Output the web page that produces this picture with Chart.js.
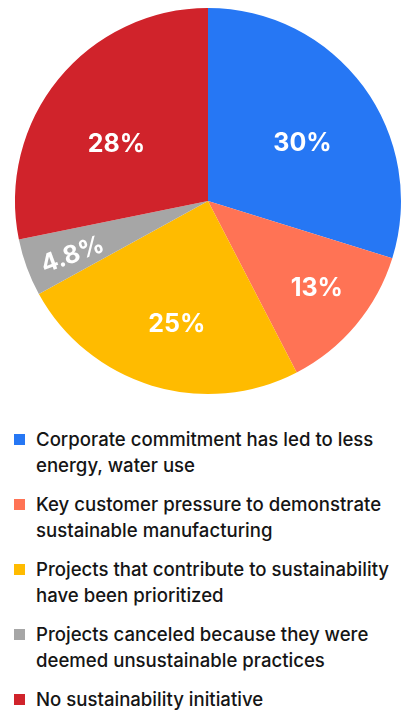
<!DOCTYPE html>
<html>
<head>
<meta charset="utf-8">
<script src="https://cdn.jsdelivr.net/npm/chart.js@4.4.1/dist/chart.umd.min.js"></script>
<style>
  html, body { margin: 0; padding: 0; background: #fff; }
  body { width: 404px; height: 710px; position: relative; overflow: hidden;
         font-family: Inter, "Liberation Sans", Arial, sans-serif; }
  #wrap { position: absolute; left: 0; top: 0; width: 404px; height: 402px; }
  #legend { position: absolute; left: 0; top: 426px; width: 404px; }
  .item { position: relative; padding-left: 36px; font-size: 18.6px; font-weight: 500;
          line-height: 26px; color: #151515; margin-bottom: 13px; white-space: nowrap; }
  .item .box { position: absolute; left: 14px; top: 8px; width: 11px; height: 11px; }
</style>
</head>
<body>
<div id="wrap"><canvas id="pie"></canvas></div>
<div id="legend"></div>
<script>
const categories = [
  ["Corporate commitment has led to less", "energy, water use"],
  ["Key customer pressure to demonstrate", "sustainable manufacturing"],
  ["Projects that contribute to sustainability", "have been prioritized"],
  ["Projects canceled because they were", "deemed unsustainable practices"],
  ["No sustainability initiative"]
];
const shares = [29.8, 12.6, 24.6, 4.8, 28.2];
const colors = ["#2677f4", "#ff7355", "#ffbb00", "#a6a6a6", "#d0232b"];

// label placement per slice: fraction of radius, and a small turn (degrees) off the mid-angle
const labelRadius = [0.575, 0.72, 0.655, 0.755, 0.56];
const labelTurn = [4.7, -1.5, -2.6, -1.2, -7.2];

const sliceLabels = {
  id: "sliceLabels",
  afterDatasetsDraw(chart) {
    const ctx = chart.ctx;
    const meta = chart.getDatasetMeta(0);
    ctx.save();
    ctx.fillStyle = "#fff";
    ctx.font = "bold 25px Inter, 'Liberation Sans', Arial, sans-serif";
    ctx.textAlign = "center";
    ctx.textBaseline = "middle";
    meta.data.forEach((arc, i) => {
      const p = arc.getProps(["x", "y", "startAngle", "endAngle", "outerRadius"], true);
      const mid = (p.startAngle + p.endAngle) / 2;
      const a = mid + labelTurn[i] * Math.PI / 180;
      const r = p.outerRadius * labelRadius[i];
      const x = p.x + Math.cos(a) * r;
      const y = p.y + Math.sin(a) * r;
      const text = shares[i].toPrecision(2) + "%";
      ctx.save();
      ctx.translate(x, y);
      // thin slices get their label turned along the radius
      if (shares[i] < 10) {
        ctx.rotate(mid + Math.PI);
      }
      ctx.fillText(text, 0, 1);
      ctx.restore();
    });
    ctx.restore();
  }
};

new Chart(document.getElementById("pie"), {
  type: "pie",
  data: {
    labels: categories,
    datasets: [{
      data: shares,
      backgroundColor: colors,
      borderWidth: 0
    }]
  },
  options: {
    responsive: true,
    maintainAspectRatio: false,
    animation: false,
    layout: { padding: { left: 15, right: 3, top: 8, bottom: 8 } },
    plugins: {
      legend: { display: false },
      tooltip: { enabled: false }
    }
  },
  plugins: [sliceLabels]
});

const legend = document.getElementById("legend");
categories.forEach((lines, i) => {
  const item = document.createElement("div");
  item.className = "item";
  const box = document.createElement("span");
  box.className = "box";
  box.style.background = colors[i];
  item.appendChild(box);
  lines.forEach((line, j) => {
    if (j) item.appendChild(document.createElement("br"));
    item.appendChild(document.createTextNode(line));
  });
  legend.appendChild(item);
});
</script>
</body>
</html>
